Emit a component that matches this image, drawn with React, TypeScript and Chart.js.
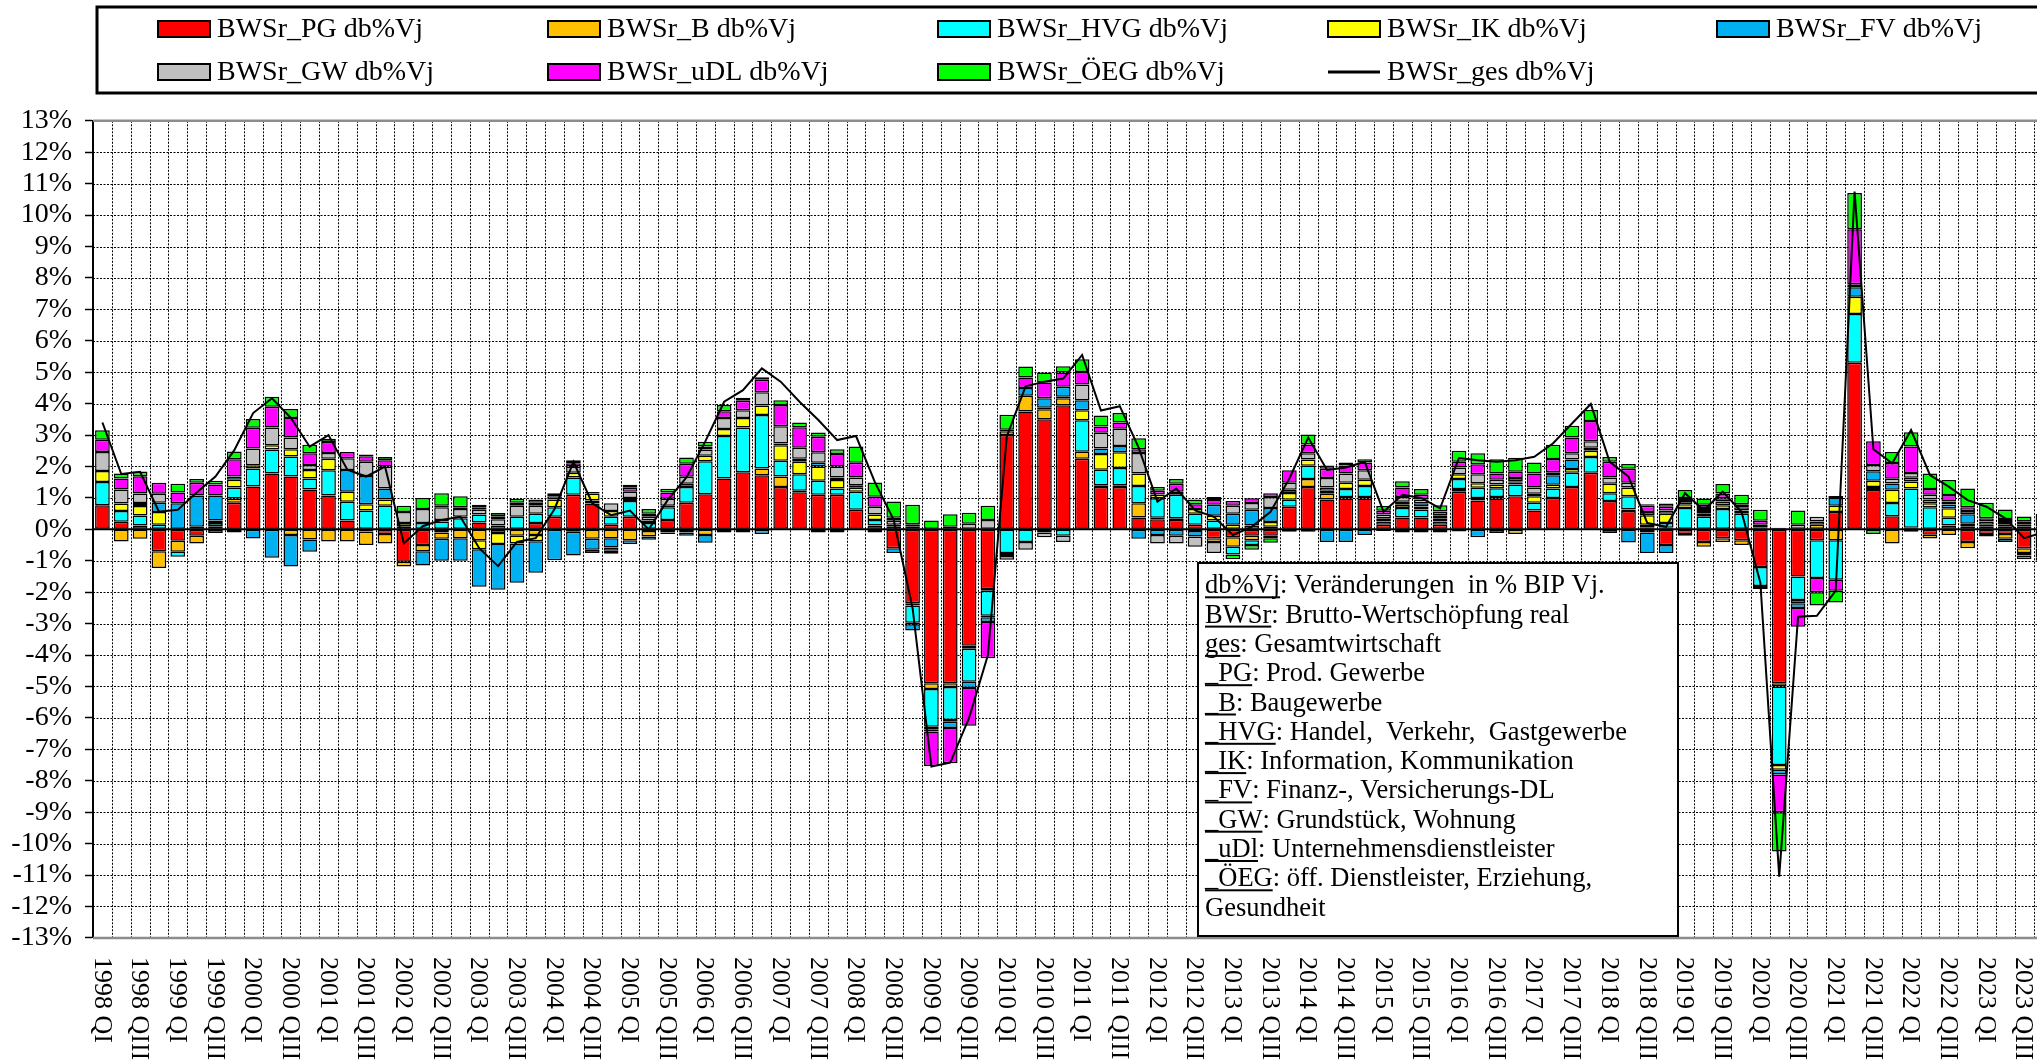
import React, { useEffect, useRef } from 'react';
import { Chart, registerables } from 'chart.js';

Chart.register(...registerables);

const FONT = "'Liberation Serif', 'Times New Roman', serif";

// ---------- categories ----------
const years = [1998, 1999, 2000, 2001, 2002, 2003, 2004, 2005, 2006, 2007, 2008, 2009, 2010,
  2011, 2012, 2013, 2014, 2015, 2016, 2017, 2018, 2019, 2020, 2021, 2022, 2023];
const quarters = ['QI', 'QII', 'QIII', 'QIV'];
const categories: string[] = years.flatMap((y) => quarters.map((q) => `${y} ${q}`));

// ---------- series (db%Vj, one value per quarter) ----------
const PG = [
  0.77, 0.24, 0.12, -0.7, -0.36, -0.2, 0.1, 0.85, 1.36, 1.78, 1.68, 1.27, 1.08, 0.28, -0.07, -0.15,
  -1.03, -0.5, -0.1, 0, 0.22, 0, 0, 0.2, 0.4, 1.1, 0.82, 0.15, 0.4, -0.05, 0.3, 0.85,
  1.12, 1.62, 1.82, 1.72, 1.35, 1.18, 1.1, 1.1, 0.62, 0.12, -0.6, -2.35, -4.9, -4.9, -3.7, -1.9,
  3.0, 3.75, 3.5, 3.95, 2.25, 1.35, 1.35, 0.38, 0.32, 0.3, 0.15, -0.28, -0.25, -0.2, -0.2, 0.72,
  1.35, 0.95, 0.98, 0.98, 0.15, 0.38, 0.38, 0.15, 1.2, 0.92, 0.98, 1.05, 0.6, 1.0, 1.35, 1.8,
  0.9, 0.58, -0.1, -0.5, -0.15, -0.4, -0.28, -0.35, -1.2, -4.9, -1.5, -0.35, 0.55, 5.3, 1.25, 0.42,
  -0.08, -0.17, 0.12, -0.4, -0.15, -0.15, -0.6, -0.6,
];
const B = [
  0, -0.39, -0.3, -0.53, -0.35, -0.25, 0, 0.13, 0, 0, -0.18, -0.32, -0.39, -0.39, -0.43, -0.3,
  -0.15, -0.2, -0.2, -0.28, -0.35, -0.12, -0.2, -0.18, 0, -0.08, -0.3, -0.28, -0.35, -0.18, -0.1, -0.1,
  -0.18, 0, 0, 0.22, 0.33, 0.05, -0.1, -0.1, 0, 0, 0, -0.07, -0.18, -0.12, -0.1, -0.05,
  0.12, 0.5, 0.32, 0.22, 0.22, 0.05, 0.05, 0.45, 0.05, 0.05, -0.05, -0.12, -0.3, -0.15, -0.08, 0,
  0.25, 0.18, 0.05, 0.05, -0.05, -0.1, -0.1, -0.1, 0.08, 0.08, 0.05, -0.15, 0, 0, 0, 0,
  0, 0.05, 0.05, 0.05, -0.05, -0.15, -0.12, -0.15, 0, -0.1, 0, 0.15, -0.35, 0, 0, -0.45,
  0.05, -0.12, -0.18, -0.2, -0.08, -0.15, -0.15, -0.15,
];
const HVG = [
  0.74, 0.34, 0.32, 0.15, -0.16, 0, 0.1, 0.35, 0.58, 0.76, 0.64, 0.35, 0.8, 0.6, 0.6, 0.75,
  0.1, 0.2, 0.25, 0.35, 0.25, 0.12, 0.4, 0.3, 0.3, 0.55, 0.1, 0.25, 0.5, 0.2, 0.4, 0.5,
  1.05, 1.35, 1.42, 1.7, 0.5, 0.52, 0.45, 0.2, 0.58, 0.18, 0.1, -0.55, -1.2, -1.05, -1.05, -0.8,
  -0.75, -0.4, -0.1, -0.2, 1.0, 0.5, 0.55, 0.55, 0.62, 0.75, 0.35, 0.28, -0.25, -0.15, 0.08, 0.22,
  0.42, 0.1, 0.25, 0.35, 0.1, 0.3, 0.25, 0.1, 0.32, 0.32, 0.28, 0.38, 0.25, 0.3, 0.45, 0.5,
  0.25, 0.42, 0.1, 0.15, 0.68, 0.4, 0.65, 0.5, -0.6, -2.5, -0.75, -1.2, -1.25, 1.55, 0.1, 0.42,
  1.25, 0.7, 0.25, 0.08, 0, -0.1, -0.08, -0.15,
];
const IK = [
  0.35, 0.24, 0.3, 0.4, 0, 0.08, 0.08, 0.25, 0.1, 0.14, 0.23, 0.27, 0.37, 0.32, 0.2, 0.2,
  0.1, 0, 0.05, 0.05, -0.28, -0.35, -0.25, -0.2, 0.25, 0.15, 0.22, 0.18, 0.1, 0.08, 0.05, 0.1,
  0.17, 0.22, 0.3, 0.3, 0.5, 0.4, 0.45, 0.27, 0.12, 0.17, 0.05, -0.05, -0.1, -0.05, 0, -0.05,
  0.05, 0, 0.05, 0.05, 0.32, 0.5, 0.5, 0.4, 0.12, 0.1, 0.15, 0.15, 0.15, 0.12, 0.15, 0.22,
  0.2, 0.1, 0.2, 0.2, 0.05, 0.1, 0.1, 0.05, 0.15, 0.15, 0.12, 0.05, 0.2, 0.12, 0.12, 0.2,
  0.3, 0.28, 0.3, 0.3, 0.12, 0.1, 0.12, 0.05, 0.05, -0.15, -0.1, 0, 0.2, 0.55, 0.2, 0.42,
  0.22, 0.13, 0.3, 0.1, 0.1, 0.1, 0.08, 0.1,
];
const FV = [
  0, 0, 0.1, 0.3, 0.83, 1.0, 0.8, 0.1, -0.29, -0.9, -1.0, -0.39, 0, 0.69, 0.9, 0.35,
  0, -0.45, -0.7, -0.72, -1.2, -1.45, -1.25, -1.0, -0.98, -0.75, -0.35, -0.3, -0.12, -0.1, -0.05, -0.1,
  -0.25, -0.1, -0.1, -0.15, 0.05, 0.1, 0.12, 0.08, 0.08, -0.1, -0.15, -0.2, -0.05, -0.2, -0.2, -0.15,
  -0.1, 0.25, 0.3, 0.32, 0.32, 0.17, 0.2, -0.3, -0.18, -0.2, -0.18, 0.35, 0.35, 0.5, 0.45, 0.1,
  -0.08, -0.4, -0.4, -0.18, 0.05, 0.1, 0.1, 0.05, -0.07, -0.25, -0.12, 0.05, 0.08, 0.3, 0.3, 0.1,
  -0.12, -0.42, -0.65, -0.25, 0, 0.08, 0.12, 0.05, -0.1, -0.15, -0.15, 0.1, 0.25, 0.3, 0.3, 0.2,
  0.12, 0.12, 0.12, 0.3, 0.05, 0.05, -0.12, -0.1,
];
const GW = [
  0.6, 0.45, 0.3, 0.28, 0, 0, -0.12, -0.1, 0.53, 0.56, 0.37, 0.16, 0.18, 0.37, 0.45, 0.7,
  0.35, 0.45, 0.4, 0.25, 0.15, 0.2, 0.35, 0.25, 0.1, 0.2, 0, 0.25, 0.2, 0.12, 0.22, 0.22,
  0.2, 0.35, 0.25, 0.42, 0.55, 0.35, 0.33, 0.35, 0.25, 0.25, 0.12, 0.08, 0, 0.08, 0.18, 0.3,
  -0.12, -0.25, -0.15, -0.2, 0.5, 0.5, 0.55, 0.65, -0.27, -0.25, -0.32, -0.35, 0.25, 0.22, 0.35, 0.22,
  0.2, 0.3, 0.3, 0.3, 0.12, 0.15, 0.12, 0.1, 0.22, 0.28, 0.15, 0.1, 0.2, 0.1, 0.2, 0.2,
  0.2, 0.15, 0.1, 0.1, 0.1, 0.1, 0.1, 0.1, 0.1, 0.05, 0.15, 0.15, 0.06, 0.1, 0.2, 0.15,
  0.15, 0.15, 0.1, 0.1, 0.1, 0.08, 0.08, 0.1,
];
const uDL = [
  0.39, 0.35, 0.55, 0.35, 0.34, 0.4, 0.35, 0.55, 0.66, 0.66, 0.62, 0.37, 0.35, 0.2, 0.18, 0.2,
  0, 0, 0.05, 0.05, 0.08, 0.1, 0.1, 0.1, 0, 0.1, -0.1, -0.1, 0.12, 0.1, 0.2, 0.42,
  0.1, 0.22, 0.3, 0.4, 0.68, 0.65, 0.5, 0.4, 0.47, 0.32, 0.1, 0.08, -1.1, -1.12, -1.2, -1.15,
  0, 0.33, 0.5, 0.45, 0.4, 0.2, 0.2, 0.12, 0.12, 0.25, 0.15, 0.15, 0.15, 0.15, 0.12, 0.4,
  0.28, 0.3, 0.25, 0.25, 0.12, 0.3, 0.15, 0.12, 0.18, 0.32, 0.2, 0.2, 0.45, 0.42, 0.5, 0.65,
  0.5, 0.45, 0.2, 0.12, 0.1, 0.1, 0.15, 0.1, 0.12, -1.2, -0.6, -0.45, -0.35, 1.75, 0.75, 0.5,
  0.85, 0.18, 0.2, 0.12, 0.1, 0.1, 0.1, 0.1,
];
const OEG = [
  0.3, 0.16, 0.15, 0, 0.28, 0.12, 0.12, 0.25, 0.28, 0.32, 0.29, 0.27, 0.1, 0, 0.05, 0.1,
  0.2, 0.35, 0.4, 0.35, 0.08, 0.1, 0.12, 0.1, 0.1, 0.1, 0.05, -0.1, 0.1, 0.15, 0.12, 0.2,
  0.15, 0.2, 0.1, 0.08, 0.15, 0.15, 0.13, 0.15, 0.52, 0.45, 0.52, 0.62, 0.28, 0.4, 0.35, 0.45,
  0.48, 0.35, 0.32, 0.2, 0.4, 0.35, 0.3, 0.35, 0.12, 0.15, 0.15, 0.1, -0.15, -0.15, -0.15, -0.08,
  0.32, 0.1, 0.1, 0.1, 0.15, 0.2, 0.18, 0.2, 0.35, 0.35, 0.45, 0.45, 0.35, 0.45, 0.38, 0.35,
  0.15, 0.15, 0.05, 0.1, 0.25, 0.2, 0.3, 0.3, 0.35, -1.25, 0.45, -0.42, -0.38, 1.15, -0.15, 0.35,
  0.45, 0.5, 0.48, 0.6, 0.5, 0.3, 0.15, 0.2,
];
const GES = [
  3.4, 1.76, 1.83, 0.56, 0.62, 1.17, 1.68, 2.52, 3.7, 4.17, 3.55, 2.63, 3.0, 1.9, 1.68, 2.0,
  -0.45, 0.1, 0.3, 0.4, -0.6, -1.17, -0.4, -0.28, 0.65, 2.15, 0.83, 0.45, 0.6, 0.0, 0.93, 1.65,
  2.8, 4.06, 4.43, 5.12, 4.7, 4.06, 3.48, 2.84, 2.97, 1.5, 0.3, -2.5, -7.55, -7.42, -6.0, -4.0,
  2.95, 4.55, 4.7, 4.8, 5.55, 3.78, 3.92, 2.6, 0.88, 1.3, 0.6, 0.4, -0.18, 0.08, 0.56, 1.62,
  2.92, 1.89, 1.97, 2.15, 0.56, 1.1, 1.0, 0.67, 2.27, 2.2, 2.15, 2.2, 2.31, 2.74, 3.37, 3.99,
  2.15, 1.68, 0.2, 0.08, 1.15, 0.6, 1.2, 0.56, -1.7, -11.05, -2.78, -2.75, -1.95, 10.75, 2.55, 2.1,
  3.16, 1.73, 1.36, 0.93, 0.72, 0.35, -0.28, -0.1,
];

const barSeries = [PG, B, HVG, IK, FV, GW, uDL, OEG];
const barLabels = ['BWSr_PG db%Vj', 'BWSr_B db%Vj', 'BWSr_HVG db%Vj', 'BWSr_IK db%Vj', 'BWSr_FV db%Vj',
  'BWSr_GW db%Vj', 'BWSr_uDL db%Vj', 'BWSr_ÖEG db%Vj'];
const barColors = ['#FF0000', '#FFC000', '#00FFFF', '#FFFF00', '#00B0F0', '#C0C0C0', '#FF00FF', '#00FF00'];
const lineLabel = 'BWSr_ges db%Vj';

// y axis range / ticks
const Y_MIN = -13;
const Y_MAX = 13;
const Y_STEP = 1;

// explanatory note: [underlined part, rest]
const notes: [string, string][] = [
  ['db%Vj', ': Veränderungen  in % BIP Vj.'],
  ['BWSr', ': Brutto-Wertschöpfung real'],
  ['ges', ': Gesamtwirtschaft'],
  ['_PG', ': Prod. Gewerbe'],
  ['_B', ': Baugewerbe'],
  ['_HVG', ': Handel,  Verkehr,  Gastgewerbe'],
  ['_IK', ': Information, Kommunikation'],
  ['_FV', ': Finanz-, Versicherungs-DL'],
  ['_GW', ': Grundstück, Wohnung'],
  ['_uDl', ': Unternehmensdienstleister'],
  ['_ÖEG', ': öff. Dienstleister, Erziehung,'],
  ['', 'Gesundheit'],
];

// ---------- layout constants ----------
const CANVAS_W = 2070;
const CANVAS_H = 1060;
const PLOT_LEFT = 93;
const PLOT_TOP = 120.8;
const PLOT_BOTTOM = 937.9;
const PLOT_RIGHT = 2052.4;
const AXIS_FONT = 28;
const LEGEND_FONT = 28;
const NOTE_FONT = 26.5;
const XLAB_FONT = 26;

export default function App() {
  const ref = useRef<HTMLCanvasElement>(null);

  useEffect(() => {
    const canvas = ref.current;
    if (!canvas) return;
    Chart.defaults.font.family = FONT;

    const gridPlugin = {
      id: 'excelGrid',
      beforeDatasetsDraw(chart: any) {
        const { ctx, chartArea: a, scales } = chart;
        const x = scales.x;
        const y = scales.y;
        ctx.save();
        ctx.lineWidth = 1;
        ctx.strokeStyle = '#000';
        ctx.setLineDash([2, 1.5]);
        for (let i = 0; i <= categories.length; i++) {
          const px = Math.round(x.getPixelForValue(i - 0.5)) + 0.5;
          if (px <= a.left + 2 || px > a.right) continue;
          ctx.beginPath();
          ctx.moveTo(px, a.top);
          ctx.lineTo(px, a.bottom);
          ctx.stroke();
        }
        for (let v = Y_MIN + Y_STEP; v < Y_MAX; v += Y_STEP) {
          if (v === 0) continue;
          const py = Math.round(y.getPixelForValue(v)) + 0.5;
          ctx.beginPath();
          ctx.moveTo(a.left, py);
          ctx.lineTo(a.right, py);
          ctx.stroke();
        }
        ctx.setLineDash([]);
        ctx.strokeStyle = '#8c8c8c';
        ctx.lineWidth = 2.5;
        [Y_MIN, Y_MAX].forEach((v) => {
          const py = y.getPixelForValue(v);
          ctx.beginPath();
          ctx.moveTo(a.left, py);
          ctx.lineTo(a.right, py);
          ctx.stroke();
        });
        ctx.strokeStyle = '#000';
        ctx.lineWidth = 2;
        const p0 = y.getPixelForValue(0);
        ctx.beginPath();
        ctx.moveTo(a.left, p0);
        ctx.lineTo(a.right, p0);
        ctx.stroke();
        ctx.restore();
      },
    };

    const decorPlugin = {
      id: 'excelDecor',
      afterDraw(chart: any) {
        const { ctx, scales } = chart;
        const x = scales.x;
        ctx.save();
        ctx.fillStyle = '#000';

        // x labels (rotated 90° clockwise)
        ctx.font = `${XLAB_FONT}px ${FONT}`;
        ctx.textAlign = 'left';
        ctx.textBaseline = 'middle';
        categories.forEach((lab, k) => {
          if (k % 2 !== 0) return;
          const px = x.getPixelForValue(k);
          ctx.save();
          ctx.translate(px, 957);
          ctx.rotate(Math.PI / 2);
          ctx.fillText(lab, 0, 1);
          ctx.restore();
        });

        // legend box
        ctx.font = `${LEGEND_FONT}px ${FONT}`;
        ctx.lineWidth = 3;
        ctx.strokeStyle = '#000';
        ctx.strokeRect(97, 7, CANVAS_W, 86);
        const cols = [158, 548, 938, 1328, 1717];
        const rows = [29, 72];
        const items: { label: string; color: string | null }[] = barLabels.map((l, i) => ({ label: l, color: barColors[i] }));
        items.push({ label: lineLabel, color: null });
        items.forEach((it, i) => {
          const cx = cols[i % 5];
          const cy = rows[Math.floor(i / 5)];
          if (it.color) {
            ctx.fillStyle = it.color;
            ctx.fillRect(cx, cy - 8, 52, 16);
            ctx.lineWidth = 2;
            ctx.strokeStyle = '#000';
            ctx.strokeRect(cx, cy - 8, 52, 16);
          } else {
            ctx.lineWidth = 3;
            ctx.strokeStyle = '#000';
            ctx.beginPath();
            ctx.moveTo(cx, cy);
            ctx.lineTo(cx + 52, cy);
            ctx.stroke();
          }
          ctx.fillStyle = '#000';
          ctx.textAlign = 'left';
          ctx.textBaseline = 'middle';
          ctx.fillText(it.label, cx + 59, cy + 1);
        });

        // note box
        ctx.font = `${NOTE_FONT}px ${FONT}`;
        ctx.fillStyle = '#fff';
        ctx.fillRect(1198, 563, 480, 373);
        ctx.lineWidth = 2;
        ctx.strokeStyle = '#000';
        ctx.strokeRect(1198, 563, 480, 373);
        ctx.fillStyle = '#000';
        ctx.textBaseline = 'alphabetic';
        notes.forEach(([u, rest], i) => {
          const by = 593.3 + 29.3 * i;
          let xx = 1205;
          if (u) {
            ctx.fillText(u, xx, by);
            const w = ctx.measureText(u).width;
            ctx.fillRect(xx, by + 3, w, 2);
            xx += w;
          }
          ctx.fillText(rest, xx, by);
        });
        ctx.restore();
      },
    };

    const datasets: any[] = [
      {
        type: 'line',
        label: lineLabel,
        data: GES,
        borderColor: '#000',
        backgroundColor: '#000',
        borderWidth: 2,
        pointRadius: 0,
        tension: 0,
        fill: false,
        order: 0,
        stack: 'ges',
      },
      ...barSeries.map((d, i) => ({
        type: 'bar',
        label: barLabels[i],
        data: d,
        backgroundColor: barColors[i],
        borderColor: '#000',
        borderWidth: 1.5,
        borderSkipped: false,
        order: 1,
        stack: 'bws',
        barPercentage: 0.78,
        categoryPercentage: 1,
      })),
    ];

    const chart = new Chart(canvas, {
      type: 'bar',
      data: { labels: categories, datasets },
      plugins: [gridPlugin, decorPlugin],
      options: {
        responsive: false,
        animation: false,
        devicePixelRatio: 1,
        layout: {
          padding: { top: PLOT_TOP, left: 0, right: CANVAS_W - PLOT_RIGHT, bottom: 0 },
        },
        plugins: {
          legend: { display: false },
          tooltip: { enabled: false },
          title: { display: false },
        },
        scales: {
          x: {
            type: 'category',
            offset: true,
            grid: { display: false },
            border: { display: false },
            ticks: { display: false },
            afterFit: (s: any) => { s.height = CANVAS_H - PLOT_BOTTOM; },
          },
          y: {
            type: 'linear',
            min: Y_MIN,
            max: Y_MAX,
            stacked: true,
            ticks: {
              stepSize: Y_STEP,
              autoSkip: false,
              maxTicksLimit: 40,
              padding: 13,
              color: '#000',
              font: { size: AXIS_FONT, family: FONT },
              callback: (v: any) => `${v}%`,
            },
            grid: {
              display: true,
              drawOnChartArea: false,
              drawTicks: true,
              tickLength: 8,
              tickColor: '#000',
              tickWidth: 1.5,
            },
            border: { display: true, color: '#000', width: 2 },
            afterFit: (s: any) => { s.width = PLOT_LEFT; },
          },
        },
      } as any,
    });
    return () => chart.destroy();
  }, []);

  return (
    <div style={{ position: 'absolute', left: 0, top: 0, width: 2037, height: 1060, overflow: 'hidden', background: '#fff' }}>
      <canvas ref={ref} width={CANVAS_W} height={CANVAS_H} style={{ display: 'block', width: CANVAS_W, height: CANVAS_H }} />
    </div>
  );
}
